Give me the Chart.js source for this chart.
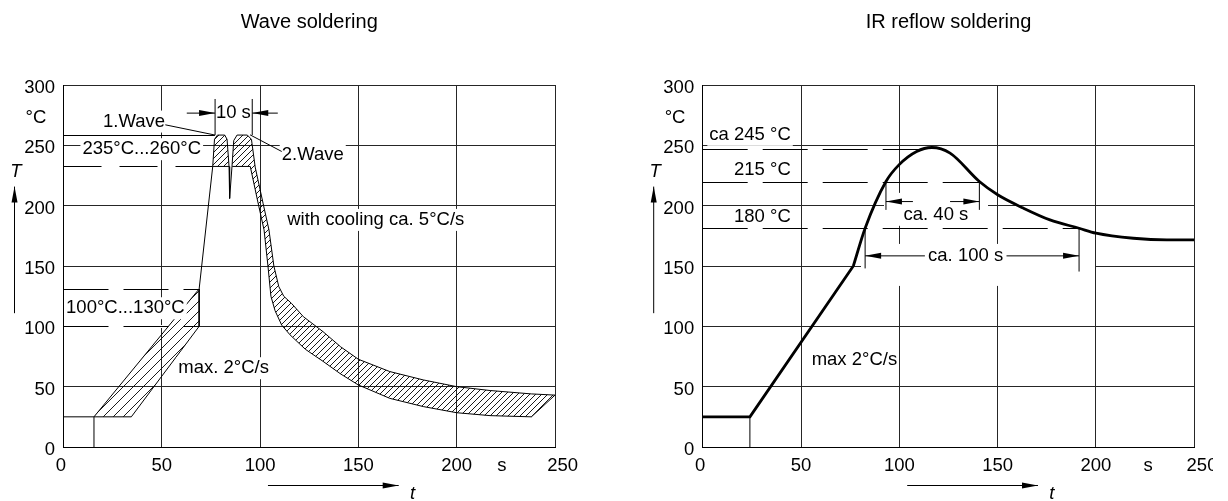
<!DOCTYPE html>
<html>
<head>
<title>Wave and IR reflow soldering</title>
<script src="https://cdn.jsdelivr.net/npm/chart.js"></script>
<style>
  body { margin: 0; background: #fff; width: 1228px; height: 501px; overflow: hidden; position: relative; }
  .pane { position: absolute; top: 0; height: 501px; overflow: hidden; }
  canvas { display: block; }
</style>
</head>
<body>
<div class="pane" style="left:0;width:614px"><canvas id="wave" width="614" height="501"></canvas></div>
<div class="pane" style="left:639px;width:574px"><canvas id="reflow" width="614" height="501"></canvas></div>
<script>
// axes
const xTicks = [0, 50, 100, 150, 200, 250];
const yTicks = [0, 50, 100, 150, 200, 250, 300];

// wave soldering, [t in s, T in °C]
const waveBase = [[0, 25], [15.5, 25]];
const waveStart = [[15.5, 0], [15.5, 25]];
const preheatHot = [[15.5, 25], [69, 131]];
const preheatCold = [[34.5, 25], [69, 100]];
const riseLine = [[69, 131], [75.9, 232.5]];
const wave1 = [[75.9, 232.5], [76.8, 255], [78.3, 258.5], [82, 258.5], [83.2, 255], [84.2, 232.5]];
const waveDip = [[84.2, 232.5], [84.5, 206], [85.7, 232.5]];
const coolHot = [[85.7, 232.5], [86.6, 254], [88.3, 258.5], [93.5, 258.5], [95.6, 255], [97.5, 232],
  [101.5, 202], [104.5, 180], [107, 150], [109.5, 133], [112, 125], [116, 119], [122, 108], [132, 95.6],
  [141, 83], [150, 72.7], [166, 62.5], [183, 55.6], [200, 50], [217, 46.8], [238, 44], [250, 43]];
const coolCold = [[85.9, 232.5], [95, 232.5], [99, 202], [102, 180], [104, 150], [105.5, 125],
  [107.6, 113], [111, 101], [115.2, 93], [123, 81], [132, 71], [141, 60.5], [150, 51.4], [166, 40.3],
  [183, 33.5], [200, 28.4], [217, 26], [238, 25]];

// IR reflow soldering
const irRamp = [[0, 25], [24, 25], [76.6, 150]];
const irStart = [[24, 0], [24, 25]];
const irPeak = [[76.6, 150], [82.6, 181.3], [93.2, 220], [99.8, 233.8], [108.8, 244.9], [116.5, 248.2],
  [125.8, 243.5], [140.7, 220], [150, 209], [163, 198], [176.6, 188.2], [191.4, 181.3], [200, 177.2],
  [219, 173], [236, 171.6], [250, 171.6]];

const FONT_FAMILY = '"Liberation Sans", Arial, Helvetica, sans-serif';
const FONT = '18.5px ' + FONT_FAMILY;
const ITALIC = 'italic 18.5px ' + FONT_FAMILY;

Chart.defaults.font.family = FONT_FAMILY;
Chart.defaults.color = '#000';

const pts = a => a.map(p => ({ x: p[0], y: p[1] }));
const closed = (hot, cold) => [...hot, ...cold.slice().reverse(), hot[0]];

function hatch(step) {
  const c = document.createElement('canvas');
  c.width = c.height = step;
  const g = c.getContext('2d');
  g.strokeStyle = '#000';
  g.lineWidth = 0.9;
  g.beginPath();
  g.moveTo(0, step); g.lineTo(step, 0);
  g.moveTo(-1, 1); g.lineTo(1, -1);
  g.moveTo(step - 1, step + 1); g.lineTo(step + 1, step - 1);
  g.stroke();
  return g.createPattern(c, 'repeat');
}

function arrow(ctx, x0, y0, x1, y1) {
  ctx.beginPath(); ctx.moveTo(x0, y0); ctx.lineTo(x1, y1); ctx.stroke();
  const a = Math.atan2(y1 - y0, x1 - x0), len = 16, half = 3;
  ctx.beginPath();
  ctx.moveTo(x1, y1);
  ctx.lineTo(x1 - len * Math.cos(a) + half * Math.sin(a), y1 - len * Math.sin(a) - half * Math.cos(a));
  ctx.lineTo(x1 - len * Math.cos(a) - half * Math.sin(a), y1 - len * Math.sin(a) + half * Math.cos(a));
  ctx.closePath(); ctx.fill();
}

function textLeft(ctx, s, x, align) {
  const w = ctx.measureText(s).width;
  return align === 'left' ? x : align === 'right' ? x - w : x - w / 2;
}

// annotations, drawn through the chart scales
function notesPlugin(n) {
  return {
    id: 'notes',
    beforeDatasetsDraw(chart) {
      const ctx = chart.ctx, X = v => chart.scales.x.getPixelForValue(v), Y = v => chart.scales.y.getPixelForValue(v);
      ctx.save();
      ctx.fillStyle = '#fff';
      (n.boxes || []).forEach(([x0, y0, x1, y1]) => ctx.fillRect(X(x0), Y(y1), X(x1) - X(x0), Y(y0) - Y(y1)));
      (n.dashed || []).forEach(d => {
        const y = Math.round(Y(d.y)) + 0.5;
        if (d.under) {
          ctx.setLineDash([]); ctx.strokeStyle = '#fff'; ctx.lineWidth = 3;
          ctx.beginPath(); ctx.moveTo(X(d.x0) + 1, y); ctx.lineTo(X(d.x1), y); ctx.stroke();
        }
        ctx.setLineDash(d.dash); ctx.strokeStyle = '#000'; ctx.lineWidth = 1;
        ctx.beginPath(); ctx.moveTo(X(d.x0), y); ctx.lineTo(X(d.x1), y); ctx.stroke();
      });
      ctx.restore();
    },
    afterDatasetsDraw(chart) {
      const ctx = chart.ctx, X = v => chart.scales.x.getPixelForValue(v), Y = v => chart.scales.y.getPixelForValue(v);
      ctx.save();
      ctx.font = FONT;
      ctx.fillStyle = '#fff';
      n.texts.filter(t => t.bg).forEach(t => {
        const w = ctx.measureText(t.t).width;
        ctx.fillRect(textLeft(ctx, t.t, X(t.x), t.align) - 2, Y(t.y) - 11, w + 4, 22);
      });
      ctx.strokeStyle = '#000'; ctx.fillStyle = '#000'; ctx.lineWidth = 1;
      (n.segs || []).forEach(([x0, y0, x1, y1]) => {
        ctx.beginPath(); ctx.moveTo(X(x0), Y(y0)); ctx.lineTo(X(x1), Y(y1)); ctx.stroke();
      });
      (n.arrows || []).forEach(([x0, y0, x1, y1]) => arrow(ctx, X(x0), Y(y0), X(x1), Y(y1)));
      ctx.textAlign = 'left'; ctx.textBaseline = 'middle';
      n.texts.forEach(t => ctx.fillText(t.t, textLeft(ctx, t.t, X(t.x), t.align), Y(t.y)));
      ctx.restore();
    },
    afterDraw(chart) {
      const ctx = chart.ctx, a = chart.chartArea;
      const X = v => chart.scales.x.getPixelForValue(v), Y = v => chart.scales.y.getPixelForValue(v);
      ctx.save();
      ctx.fillStyle = '#000'; ctx.strokeStyle = '#000'; ctx.lineWidth = 1;
      ctx.font = FONT; ctx.textBaseline = 'middle'; ctx.textAlign = 'left';
      ctx.fillText('°C', a.left - 38, Y(272.8));
      ctx.textAlign = 'center';
      ctx.fillText('s', X(n.unitAt), a.bottom + 19);
      ctx.font = ITALIC;
      ctx.fillText('T', a.left - 47.5, Y(228.3));
      ctx.textBaseline = 'alphabetic';
      ctx.fillText('t', X(177.5), a.bottom + 52);
      arrow(ctx, a.left - 49, Y(110.9), a.left - 49, Y(215.8));
      arrow(ctx, X(104), a.bottom + 38.5, X(170.5), a.bottom + 38.5);
      ctx.restore();
    }
  };
}

function makeChart(id, title, datasets, notes, geo) {
  return new Chart(document.getElementById(id), {
    type: 'line',
    data: { datasets },
    options: {
      responsive: false,
      animation: false,
      events: [],
      layout: { padding: { left: 0, right: geo.padRight, top: 0, bottom: 0 } },
      plugins: {
        legend: { display: false },
        tooltip: { enabled: false },
        title: {
          display: true, text: title, fullSize: false, color: '#000',
          font: { size: 20, weight: 'normal' }, padding: { top: 10, bottom: 51 }
        }
      },
      elements: {
        point: { radius: 0 },
        line: { borderColor: '#000', borderWidth: 1, fill: false, tension: 0 }
      },
      scales: {
        x: {
          type: 'linear', min: 0, max: 250,
          afterBuildTicks: s => { s.ticks = xTicks.map(v => ({ value: v })); },
          afterFit: s => { s.height = 54; },
          grid: { color: '#262626', lineWidth: 1, drawTicks: false },
          border: { color: '#000', width: 1 },
          ticks: {
            padding: 8, maxRotation: 0, autoSkip: false, font: { size: 18.5 },
            callback: v => v === 0 ? '0 ' : v === 250 ? '   250' : String(v)
          }
        },
        y: {
          type: 'linear', min: 0, max: 300,
          afterBuildTicks: s => { s.ticks = yTicks.map(v => ({ value: v })); },
          afterFit: s => { s.width = geo.yWidth; },
          grid: { color: '#262626', lineWidth: 1, drawTicks: false },
          border: { color: '#000', width: 1 },
          ticks: { padding: 8.5, labelOffset: 3, font: { size: 18.5 }, callback: v => String(v) }
        }
      }
    },
    plugins: [notesPlugin(notes)]
  });
}

const fineHatch = hatch(6);
const wideHatch = hatch(10);

makeChart('wave', 'Wave soldering', [
  { data: pts(closed(preheatHot, preheatCold)), fill: 'shape', backgroundColor: wideHatch },
  { data: pts([...wave1, wave1[0]]), fill: 'shape', backgroundColor: fineHatch },
  { data: pts(closed(coolHot, coolCold)), fill: 'shape', backgroundColor: fineHatch },
  { data: pts(waveBase) },
  { data: pts(waveStart) },
  { data: pts(riseLine) },
  { data: pts(waveDip) }
], {
  unitAt: 223,
  dashed: [
    { y: 258.5, x0: 0, x1: 77, dash: [] },
    { y: 232.5, x0: 0, x1: 75.9, dash: [38, 18] },
    { y: 131, x0: 0, x1: 69, dash: [45, 15] },
    { y: 100, x0: 0, x1: 69, dash: [45, 15], under: true }
  ],
  texts: [
    { t: '1.Wave', x: 35.9, y: 269.7, align: 'center', bg: true },
    { t: '235°C...260°C', x: 39.8, y: 246.8, align: 'center', bg: true },
    { t: '10 s', x: 86.4, y: 276.7, align: 'center' },
    { t: '2.Wave', x: 111, y: 242.1, align: 'left', bg: true },
    { t: 'with cooling ca. 5°C/s', x: 113.8, y: 188.2, align: 'left', bg: true },
    { t: '100°C...130°C', x: 1.3, y: 115, align: 'left', bg: true },
    { t: 'max. 2°C/s', x: 58.4, y: 65.3, align: 'left', bg: true }
  ],
  segs: [[51.8, 267, 77.1, 258.5], [94.9, 258.7, 111, 244.9], [77.1, 258.5, 77.1, 288.4], [96, 258.5, 96, 288.4]],
  arrows: [[62.7, 276.7, 77.1, 276.7], [109, 276.7, 96, 276.7]]
}, { yWidth: 63.5, padRight: 59 });

makeChart('reflow', 'IR reflow soldering', [
  { data: pts(irRamp), borderWidth: 2.8, borderJoinStyle: 'round' },
  { data: pts(irPeak), borderWidth: 2.8, cubicInterpolationMode: 'monotone', borderJoinStyle: 'round' },
  { data: pts(irStart) }
], {
  unitAt: 226.5,
  boxes: [[92.2, 183.3, 145.1, 210.6], [80.5, 133.5, 199.5, 168.3]],
  dashed: [
    { y: 246.8, x0: 0, x1: 111, dash: [45, 15] },
    { y: 219.5, x0: 0, x1: 140.7, dash: [45, 15] },
    { y: 181.3, x0: 0, x1: 191.4, dash: [45, 15] }
  ],
  texts: [
    { t: 'ca 245 °C', x: 44.8, y: 258.7, align: 'right', bg: true },
    { t: '215 °C', x: 44.8, y: 229.7, align: 'right' },
    { t: '180 °C', x: 44.8, y: 191, align: 'right' },
    { t: 'ca. 40 s', x: 118.6, y: 192.5, align: 'center' },
    { t: 'ca. 100 s', x: 133.7, y: 158.4, align: 'center' },
    { t: 'max 2°C/s', x: 55.4, y: 72.1, align: 'left' }
  ],
  segs: [[93.2, 196.5, 93.2, 220], [140.7, 196.5, 140.7, 220], [82.6, 148, 82.6, 181.3], [191.4, 145.4, 191.4, 181.3]],
  arrows: [[106.9, 203.4, 93.2, 203.4], [125.8, 203.4, 140.7, 203.4], [113, 158.4, 82.6, 158.4], [154.5, 158.4, 191.4, 158.4]]
}, { yWidth: 63.7, padRight: 58.7 });
</script>
</body>
</html>
